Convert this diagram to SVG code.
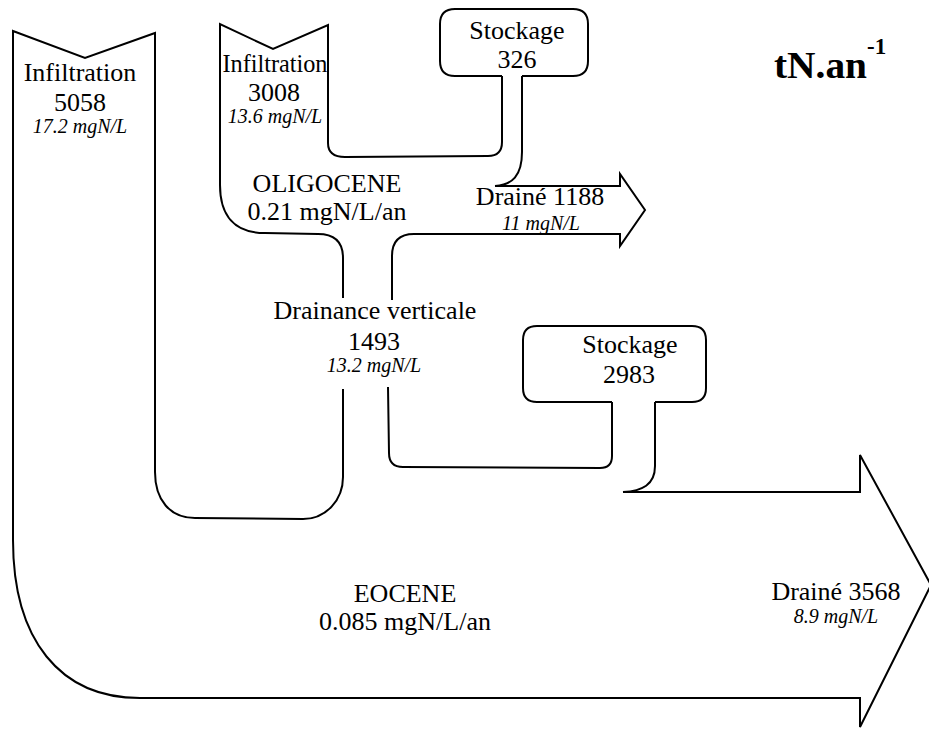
<svg xmlns="http://www.w3.org/2000/svg" width="929" height="730" viewBox="0 0 929 730">
<style>
.o{fill:none;stroke:#000;stroke-width:2;stroke-linejoin:miter;stroke-linecap:butt}
text{font-family:"Liberation Serif","Times New Roman",serif;fill:#000;text-anchor:middle}
.t{font-size:26px}
.i{font-size:20px;font-style:italic}
.b{font-weight:bold;text-anchor:start}
</style>
<rect width="929" height="730" fill="#fff"/>
<g id="connectors">
<path class="o" d="M343 298 L343 258 Q343 234 318 234 L265 233 C234 233 220 215 220 185 L220 24 L273 49 L328 25 L328 143 Q328 157 345 157 L488 156 Q502 156 502 142 L502 76"/>
<path class="o" d="M522 76 L522 152 C522 176 512 185 495 186 L620 186 L620 174 L645 210 L620 246 L620 234 L414 234 Q392 234 392 256 L392 300"/>
<path class="o" d="M388 387 L389 453 Q389 467 403 467 L600 468 Q612 468 612 456 L612 402"/>
<path class="o" d="M655 402 L655 466 C655 485 642 491 623 492 L860 492 L860 455 L931 585 L860 727 L860 698 L140 698 C60 698 13 640 13 540 L13 31 L85 58 L155 33 L155 472 C155 500 170 518 195 518 L303 519 C326 519 343 500 343 477 L343 389"/>
</g>
<g id="infiltration-5058">
<text class="t" x="80" y="81">Infiltration</text>
<text class="t" x="80" y="111">5058</text>
<text class="i" x="80" y="133">17.2 mgN/L</text>
</g>
<g id="infiltration-3008">
<text class="t" x="275" y="72" textLength="105" lengthAdjust="spacingAndGlyphs">Infiltration</text>
<text class="t" x="274" y="101">3008</text>
<text class="i" x="275" y="123">13.6 mgN/L</text>
</g>
<g id="stockage-326">
<path class="o" d="M502 76 L455 76 Q440 76 440 61 L440 24 Q440 9 455 9 L573 9 Q588 9 588 24 L588 61 Q588 76 573 76 L522 76"/>
<text class="t" x="517" y="39">Stockage</text>
<text class="t" x="517" y="68">326</text>
</g>
<g id="oligocene">
<text class="t" x="327" y="192">OLIGOCENE</text>
<text class="t" x="327" y="220">0.21 mgN/L/an</text>
</g>
<g id="draine-1188">
<text class="t" x="540" y="205">Drainé 1188</text>
<text class="i" x="541" y="230">11 mgN/L</text>
</g>
<g id="drainance-verticale">
<text class="t" x="375" y="319">Drainance verticale</text>
<text class="t" x="374" y="350">1493</text>
<text class="i" x="374" y="372">13.2 mgN/L</text>
</g>
<g id="stockage-2983">
<path class="o" d="M612 402 L537 402 Q523 402 523 388 L523 340 Q523 326 537 326 L692 326 Q706 326 706 340 L706 388 Q706 402 692 402 L655 402"/>
<text class="t" x="630" y="353">Stockage</text>
<text class="t" x="629" y="383">2983</text>
</g>
<g id="eocene">
<text class="t" x="405" y="602">EOCENE</text>
<text class="t" x="405" y="630">0.085 mgN/L/an</text>
</g>
<g id="draine-3568">
<text class="t" x="836" y="600">Drainé 3568</text>
<text class="i" x="836" y="623">8.9 mgN/L</text>
</g>
<g id="unit">
<text class="b" x="774" y="78" font-size="38" textLength="93" lengthAdjust="spacingAndGlyphs">tN.an</text>
<text class="b" x="867" y="54" font-size="23">-1</text>
</g>
</svg>
